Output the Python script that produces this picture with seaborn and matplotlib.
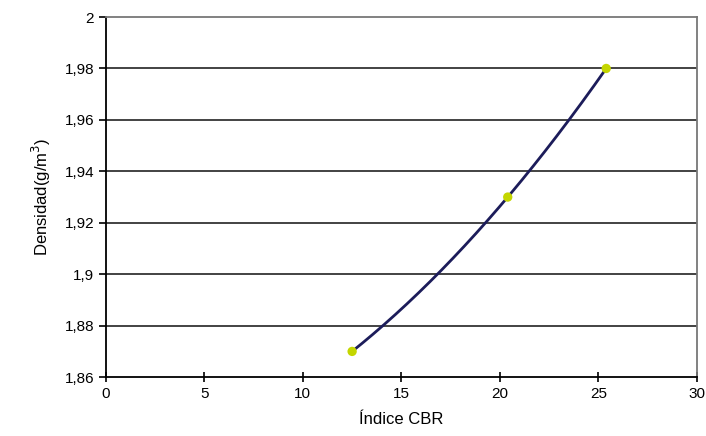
import numpy as np
import matplotlib
matplotlib.use('Agg')
import matplotlib.pyplot as plt
import seaborn as sns
import pandas as pd

# Data
cbr = [12.5, 20.4, 25.4]
densidad = [1.870, 1.930, 1.980]

x_ticks = [0, 5, 10, 15, 20, 25, 30]
y_ticks = [1.86, 1.88, 1.90, 1.92, 1.94, 1.96, 1.98, 2.00]
y_tick_labels = ['1,86', '1,88', '1,9', '1,92', '1,94', '1,96', '1,98', '2']

df = pd.DataFrame({'CBR': cbr, 'Densidad': densidad})

sns.set_style('white')
plt.rcParams['font.family'] = ['Liberation Sans', 'DejaVu Sans']
plt.rcParams['text.color'] = 'black'
plt.rcParams['axes.labelcolor'] = 'black'

fig = plt.figure(figsize=(7.06, 4.36), dpi=100)
ax = fig.add_axes([0.150, 0.135, 0.837, 0.826])

# smoothed line through the points (quadratic through the three points)
coef = np.polyfit(df['CBR'], df['Densidad'], 2)
xs = np.linspace(df['CBR'].min(), df['CBR'].max(), 200)
smooth = pd.DataFrame({'CBR': xs, 'Densidad': np.polyval(coef, xs)})
sns.lineplot(data=smooth, x='CBR', y='Densidad', color='#1c1c5a', linewidth=2, ax=ax, zorder=3)
sns.scatterplot(data=df, x='CBR', y='Densidad', color='#c4d600', s=45, edgecolor='none', ax=ax, zorder=4)

ax.set_xlim(0, 30)
ax.set_ylim(1.86, 2.0)
ax.set_xticks(x_ticks)
ax.set_yticks(y_ticks)
ax.set_yticklabels(y_tick_labels)
for y in y_ticks[1:-1]:
    ax.axhline(y, color='#222222', linewidth=1.2, zorder=1)

for side in ['left', 'bottom']:
    ax.spines[side].set_color('black')
    ax.spines[side].set_linewidth(1.3)
for side in ['top', 'right']:
    ax.spines[side].set_color('#777777')
    ax.spines[side].set_linewidth(1.3)

ax.tick_params(axis='y', direction='out', length=5, width=1.2, colors='black', labelsize=11, left=True)
ax.tick_params(axis='x', direction='inout', length=7, width=1.2, colors='black', labelsize=11, bottom=True)

ax.set_xlabel('Índice CBR', fontsize=12, labelpad=8)
ax.set_ylabel('Densidad(g/m$^3$)', fontsize=12, labelpad=8)

fig.savefig('out.png', dpi=100)
